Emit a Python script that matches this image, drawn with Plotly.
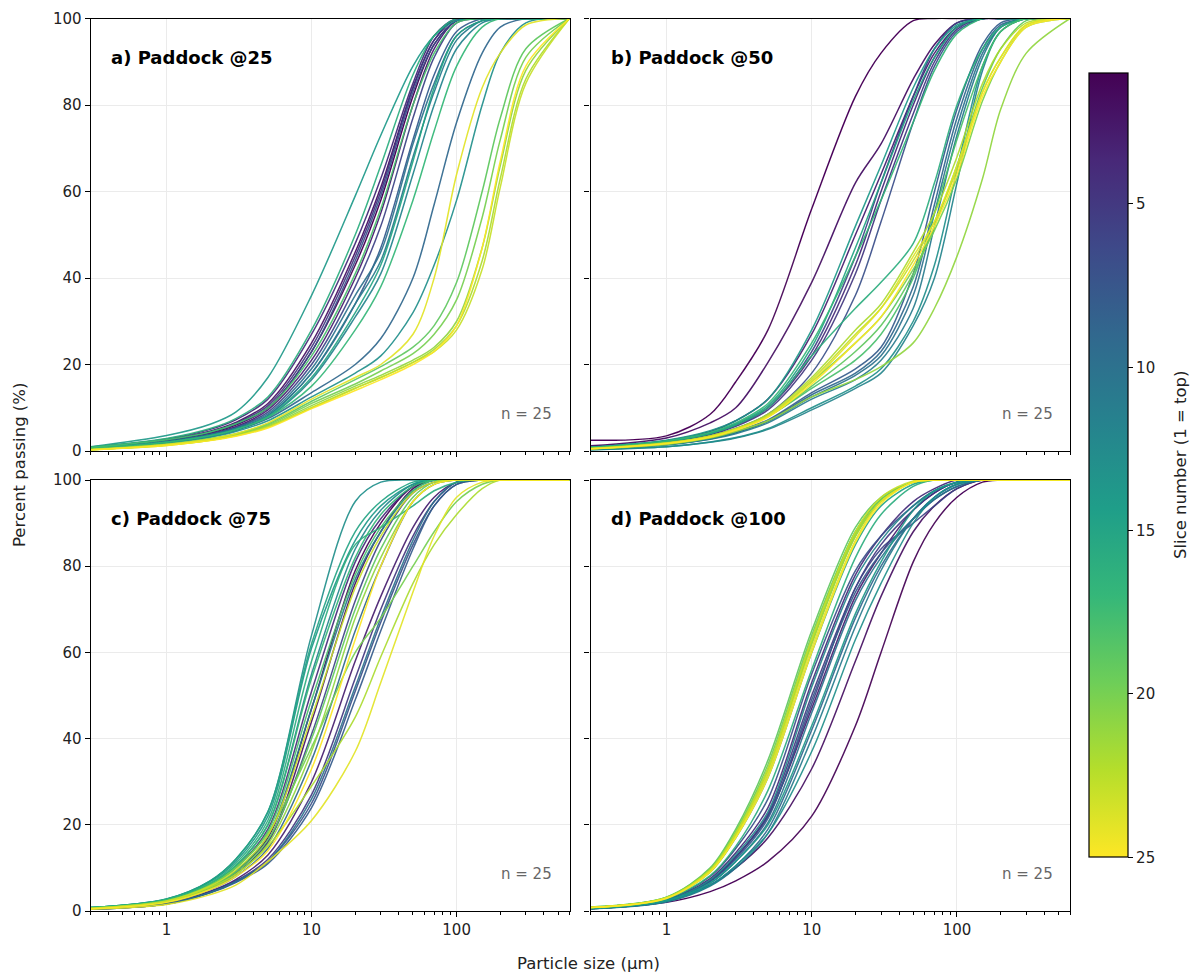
import math
import plotly.graph_objects as go
import plotly.colors as pc

# ---------------- data ----------------
SIZES_UM = [0.3, 1, 2, 3, 5, 10, 20, 30, 50, 70, 100, 150, 200, 300, 600]
SLICES = list(range(1, 26))
PANEL_TITLES = ["a) Paddock @25", "b) Paddock @50", "c) Paddock @75", "d) Paddock @100"]
SAMPLE_COUNTS = [25, 25, 25, 25]
X_TICKS = [1, 10, 100]
X_TICKTEXT = ["1", "10", "100"]
Y_TICKS = [0, 20, 40, 60, 80, 100]
CBAR_TICKS = [5, 10, 15, 20, 25]

paddock25 = [
    [0.7, 2.4, 4.2, 6.0, 10.0, 23, 43, 58, 82, 94, 99.5, 100, 100, 100, 100],
    [0.8, 2.6, 4.6, 6.6, 11.0, 25, 46, 61, 84, 95, 100, 100, 100, 100, 100],
    [0.7, 2.3, 4.0, 5.6, 9.5, 21, 40, 55, 80, 93, 99.5, 100, 100, 100, 100],
    [0.9, 2.8, 5.0, 7.2, 12.0, 27, 48, 63, 85, 96, 100, 100, 100, 100, 100],
    [0.8, 2.6, 4.5, 6.4, 10.5, 24, 45, 60, 84, 95, 100, 100, 100, 100, 100],
    [0.7, 2.3, 3.9, 5.4, 9.0, 20, 38, 52, 77, 91, 99, 100, 100, 100, 100],
    [0.8, 2.5, 4.4, 6.2, 10.0, 23, 44, 59, 83, 94, 99.5, 100, 100, 100, 100],
    [0.6, 2.1, 3.6, 5.0, 8.2, 18, 34, 47, 72, 87, 97, 100, 100, 100, 100],
    [0.6, 2.0, 3.4, 4.8, 7.5, 13.5, 20, 26, 40, 57, 76, 92, 98, 100, 100],
    [0.6, 2.2, 3.8, 5.3, 8.6, 19, 36, 46, 71, 85, 96, 99.5, 100, 100, 100],
    [0.6, 2.1, 3.6, 5.1, 8.2, 18, 34, 44, 68, 83, 95, 99.5, 100, 100, 100],
    [0.5, 2.0, 3.4, 4.8, 7.8, 16.5, 31, 41, 64, 80, 93, 99, 100, 100, 100],
    [0.5, 1.8, 3.2, 4.5, 7.0, 12.5, 18, 22, 32, 43, 58, 80, 92, 99, 100],
    [1.0, 3.6, 6.2, 9.0, 17, 36, 59, 73, 89, 96, 99.5, 100, 100, 100, 100],
    [0.6, 2.1, 3.6, 5.0, 8.0, 17, 32, 43, 67, 84, 96, 99.5, 100, 100, 100],
    [0.9, 2.9, 5.2, 7.5, 12.5, 28, 50, 66, 87, 96, 100, 100, 100, 100, 100],
    [0.6, 2.0, 3.5, 4.9, 7.8, 15, 28, 38, 58, 74, 89, 98, 100, 100, 100],
    [0.8, 2.6, 4.4, 6.3, 10.0, 22, 41, 56, 80, 92, 99, 100, 100, 100, 100],
    [0.4, 1.6, 2.9, 4.0, 6.3, 11.5, 16.5, 19.5, 24, 29, 39, 60, 77, 93, 100],
    [0.4, 1.5, 2.8, 3.9, 6.0, 11.0, 15.5, 18.5, 22.5, 27, 35, 54, 72, 91, 100],
    [0.3, 1.4, 2.6, 3.7, 5.8, 10.5, 15, 17.5, 21, 24, 30, 47, 66, 88, 100],
    [0.3, 1.4, 2.5, 3.6, 5.6, 10.0, 14.5, 17, 20.5, 23.5, 29, 44, 63, 86, 100],
    [0.3, 1.3, 2.5, 3.5, 5.5, 10.0, 14.5, 17, 20.5, 23, 28, 42, 61, 85, 100],
    [0.3, 1.5, 2.8, 4.0, 6.5, 12, 17, 20, 27, 40, 64, 84, 92, 98.5, 100],
    [0.3, 1.3, 2.4, 3.4, 5.3, 9.8, 14, 16.5, 20, 23, 29, 47, 67, 89, 100],
]

paddock50 = [
    [2.5, 3.5, 8.5, 16, 28, 56, 82, 92, 99.5, 100, 100, 100, 100, 100, 100],
    [1.2, 3.0, 6.5, 10, 20.5, 39, 62, 71, 86, 94, 99, 100, 100, 100, 100],
    [0.9, 2.4, 4.5, 7.0, 12, 27, 50, 64, 82, 92, 98, 100, 100, 100, 100],
    [0.8, 2.2, 4.0, 6.0, 10, 22, 43, 60, 80, 91, 98, 100, 100, 100, 100],
    [0.8, 2.1, 3.8, 5.7, 9.5, 21, 41, 58, 78, 90, 97.5, 100, 100, 100, 100],
    [0.8, 2.2, 4.0, 6.0, 10, 23, 45, 62, 82, 93, 99, 100, 100, 100, 100],
    [0.7, 2.0, 3.5, 5.2, 8.5, 18, 36, 53, 76, 89, 97, 100, 100, 100, 100],
    [0.5, 1.6, 3.0, 4.5, 7.2, 13.5, 19, 24, 41, 60, 79, 94, 99, 100, 100],
    [0.5, 1.5, 2.9, 4.3, 7.0, 13, 18, 23, 38, 57, 77, 93, 98.5, 100, 100],
    [0.5, 1.5, 2.8, 4.2, 6.8, 12.5, 17.5, 22, 36, 55, 75, 92, 98, 100, 100],
    [0.4, 1.4, 2.7, 4.0, 6.5, 12, 16.5, 21, 33, 52, 73, 91, 98, 100, 100],
    [0.3, 1.0, 2.0, 3.0, 5.0, 9.5, 14.5, 18, 29, 40, 62, 88, 97, 100, 100],
    [0.3, 1.0, 2.1, 3.1, 5.2, 10, 15, 19, 30, 43, 65, 89, 97, 100, 100],
    [0.9, 2.5, 4.7, 7.0, 12, 28, 52, 66, 84, 93, 98.5, 100, 100, 100, 100],
    [0.8, 2.3, 4.2, 6.3, 10.5, 24, 47, 62, 81, 91, 98, 100, 100, 100, 100],
    [0.8, 2.2, 4.0, 6.0, 10, 22, 33, 39, 48, 62, 80, 93, 98, 100, 100],
    [0.8, 2.3, 4.3, 6.5, 11, 25, 45, 58, 76, 88, 96.5, 100, 100, 100, 100],
    [0.6, 1.8, 3.3, 5.0, 8.0, 14.5, 21, 27, 40, 55, 72, 89, 97, 100, 100],
    [0.6, 1.8, 3.4, 5.0, 8.0, 15, 23, 29, 41, 52, 66, 84, 93, 99.5, 100],
    [0.5, 1.8, 3.3, 5.0, 8.0, 16, 25, 31, 42, 51, 63, 81, 90, 98, 100],
    [0.5, 1.5, 3.0, 4.5, 7.0, 12.5, 16.5, 19.5, 25, 33, 45, 63, 79, 92, 100],
    [0.6, 1.9, 3.5, 5.2, 8.5, 17, 28, 34, 46, 55, 68, 85, 93, 99, 100],
    [0.5, 1.8, 3.4, 5.1, 8.2, 16.5, 27, 33, 44, 53, 65, 83, 91, 98.5, 100],
    [0.5, 1.8, 3.3, 5.0, 8.0, 16, 26.5, 33, 45, 53, 66, 83, 91, 98.5, 100],
    [0.5, 1.7, 3.2, 4.8, 7.8, 15.5, 25, 31, 43, 52, 64, 82, 90, 98, 100],
]

paddock75 = [
    [0.6, 2.2, 5.5, 9.0, 17, 47, 79, 90, 98.5, 100, 100, 100, 100, 100, 100],
    [0.6, 2.1, 5.2, 8.5, 16, 44, 76, 88, 98, 100, 100, 100, 100, 100, 100],
    [0.5, 1.8, 4.6, 7.3, 13, 30, 58, 73, 89, 96, 99.5, 100, 100, 100, 100],
    [0.7, 2.4, 6.0, 10, 19, 51, 81, 91, 98.5, 100, 100, 100, 100, 100, 100],
    [0.4, 1.7, 4.5, 7.0, 12, 27, 54, 70, 87, 95, 99.5, 100, 100, 100, 100],
    [0.6, 2.1, 5.3, 8.6, 16, 41, 72, 86, 97, 99.5, 100, 100, 100, 100, 100],
    [0.4, 1.6, 4.3, 6.8, 11.5, 25, 51, 67, 85, 94, 99, 100, 100, 100, 100],
    [0.4, 1.6, 4.2, 6.6, 11, 24, 49, 65, 84, 94, 99, 100, 100, 100, 100],
    [0.5, 2.0, 5.0, 8.0, 14.5, 35, 65, 80, 95, 99, 100, 100, 100, 100, 100],
    [0.4, 1.6, 4.3, 6.8, 11.5, 26, 52, 68, 86, 95, 99.5, 100, 100, 100, 100],
    [0.6, 2.2, 5.6, 9.2, 17.5, 47, 77, 88, 97.5, 100, 100, 100, 100, 100, 100],
    [0.7, 2.5, 6.3, 10.5, 20, 55, 84, 93, 99, 100, 100, 100, 100, 100, 100],
    [0.8, 2.8, 7.0, 12, 23, 64, 95, 99.5, 100, 100, 100, 100, 100, 100, 100],
    [0.8, 2.7, 6.8, 11.5, 22, 61, 86, 94, 99, 100, 100, 100, 100, 100, 100],
    [0.8, 2.8, 7.0, 12, 23, 62, 88, 95, 99.5, 100, 100, 100, 100, 100, 100],
    [0.8, 2.7, 6.5, 11, 21, 58, 85, 89, 94, 97.5, 99.5, 100, 100, 100, 100],
    [0.7, 2.6, 6.3, 10.5, 20, 54, 82, 92, 98.5, 100, 100, 100, 100, 100, 100],
    [0.7, 2.4, 6.0, 10, 18.5, 49, 78, 89, 97.5, 100, 100, 100, 100, 100, 100],
    [0.6, 2.2, 5.5, 9.0, 16.5, 40, 70, 84, 96, 99.5, 100, 100, 100, 100, 100],
    [0.7, 2.4, 6.0, 10, 18, 38, 60, 68, 80, 88, 95, 99, 100, 100, 100],
    [0.6, 2.1, 5.2, 8.5, 15.5, 37, 68, 82, 95, 99, 100, 100, 100, 100, 100],
    [0.6, 2.2, 5.5, 8.5, 15, 29, 45, 59, 76, 85, 92, 98, 100, 100, 100],
    [0.6, 2.3, 5.8, 9.5, 17.5, 45, 75, 87, 97, 99.5, 100, 100, 100, 100, 100],
    [0.4, 1.5, 3.8, 6.0, 11.5, 21, 37, 53, 74, 87, 96, 99.5, 100, 100, 100],
    [0.5, 2.0, 5.0, 8.0, 14, 33, 63, 80, 95, 99, 100, 100, 100, 100, 100],
]

paddock100 = [
    [0.5, 2.0, 4.5, 7.0, 11.5, 22, 43, 60, 81, 90, 96, 99.5, 100, 100, 100],
    [0.6, 2.3, 6.0, 10.0, 17, 33, 58, 73, 88, 94, 98, 100, 100, 100, 100],
    [0.6, 2.5, 7.0, 12.5, 22, 47, 73, 83, 93, 97, 99.5, 100, 100, 100, 100],
    [0.7, 2.6, 7.5, 13.5, 24, 53, 78, 87, 95, 98, 100, 100, 100, 100, 100],
    [0.6, 2.5, 7.0, 12.5, 22.5, 50, 75, 85, 93, 97, 99.5, 100, 100, 100, 100],
    [0.6, 2.4, 7.0, 12.5, 22, 48, 75, 84, 90, 94, 98, 100, 100, 100, 100],
    [0.7, 2.7, 8.0, 14.5, 26, 55, 79, 87, 94, 97.5, 99.5, 100, 100, 100, 100],
    [0.6, 2.4, 6.8, 12, 21.5, 49, 74, 83, 91, 95.5, 98.5, 100, 100, 100, 100],
    [0.5, 2.2, 6.0, 10.5, 19, 42, 68, 80, 91, 96, 99, 100, 100, 100, 100],
    [0.5, 2.3, 6.4, 11.5, 20.5, 46, 72, 82, 91, 95.5, 98.5, 100, 100, 100, 100],
    [0.5, 2.1, 5.8, 10, 18, 40, 66, 79, 91, 96, 99, 100, 100, 100, 100],
    [0.6, 2.5, 7.2, 13, 23, 52, 77, 86, 94, 97.5, 99.5, 100, 100, 100, 100],
    [0.6, 2.3, 6.0, 10.5, 18, 37, 63, 76, 90, 96, 99, 100, 100, 100, 100],
    [0.6, 2.4, 6.5, 11.5, 20, 43, 69, 81, 93, 97.5, 99.5, 100, 100, 100, 100],
    [0.8, 3.0, 9.0, 17, 31, 60, 85, 94, 99, 100, 100, 100, 100, 100, 100],
    [0.7, 2.8, 8.2, 15, 28, 56, 82, 92, 98.5, 100, 100, 100, 100, 100, 100],
    [0.8, 3.1, 9.5, 18, 33, 63, 88, 95.5, 99.5, 100, 100, 100, 100, 100, 100],
    [0.8, 3.0, 9.3, 17.5, 32, 62, 87, 95, 99.5, 100, 100, 100, 100, 100, 100],
    [0.9, 3.2, 10, 19, 35, 65, 89, 96, 99.5, 100, 100, 100, 100, 100, 100],
    [0.9, 3.2, 9.8, 18.5, 34, 64, 88, 95.5, 99.5, 100, 100, 100, 100, 100, 100],
    [0.8, 3.1, 9.6, 18, 33, 63, 87.5, 95, 99.5, 100, 100, 100, 100, 100, 100],
    [0.8, 3.0, 9.3, 17.5, 32, 62, 87, 95, 99.5, 100, 100, 100, 100, 100, 100],
    [0.8, 3.1, 9.5, 18, 33, 63, 88, 96, 99.8, 100, 100, 100, 100, 100, 100],
    [0.8, 3.0, 9.2, 17.3, 32, 61, 86, 95, 99.5, 100, 100, 100, 100, 100, 100],
    [0.8, 2.9, 9.0, 17, 31, 60, 85.5, 94.5, 99.5, 100, 100, 100, 100, 100, 100],
]

PANELS = [paddock25, paddock50, paddock75, paddock100]

# ---------------- figure ----------------
W, H = 1191, 977
FONT = "DejaVu Sans"

def px_x(p):
    return p / W

def px_y(p):
    return 1 - p / H

XDOM = [[px_x(90.7), px_x(569.5)], [px_x(590.5), px_x(1070)]]
YDOM = [[px_y(451), px_y(18.5)], [px_y(911), px_y(480)]]

MINOR_TICKS = [m * 10 ** e for e in (-1, 0, 1, 2) for m in range(2, 10)
               if 0.3 <= m * 10 ** e <= 600]

fig = go.Figure()

def slice_color(s):
    return pc.sample_colorscale("Viridis", [(s - 1) / 24.0])[0]

for i, panel in enumerate(PANELS):
    ax = "" if i == 0 else str(i + 1)
    for s, vals in zip(SLICES, panel):
        fig.add_trace(go.Scatter(
            x=SIZES_UM, y=vals, mode="lines",
            line=dict(color=slice_color(s), width=1.5, shape="spline", smoothing=0.9),
            opacity=0.92, showlegend=False, hoverinfo="skip",
            xaxis="x" + ax, yaxis="y" + ax,
        ))

# colour bar carrier (off-range point)
fig.add_trace(go.Scatter(
    x=[1], y=[-50], mode="markers", showlegend=False, hoverinfo="skip",
    marker=dict(
        color=[-1], cmin=-25, cmax=-1, colorscale="Viridis", reversescale=True,
        showscale=True, size=1,
        colorbar=dict(
            x=px_x(1088.7), xanchor="left", y=px_y((73.3 + 857.3) / 2), yanchor="middle",
            len=(857.3 - 73.3) / H, lenmode="fraction", thickness=39, thicknessmode="pixels",
            xpad=0, ypad=0, outlinewidth=1.2, outlinecolor="black",
            ticks="outside", ticklen=5, tickwidth=1, tickcolor="black",
            tickvals=[-t for t in CBAR_TICKS], ticktext=[str(t) for t in CBAR_TICKS],
            tickfont=dict(family=FONT, size=15, color="#222"),
        ),
    ),
    xaxis="x", yaxis="y",
))

layout = dict(
    width=W, height=H, margin=dict(l=0, r=0, t=0, b=0, pad=0, autoexpand=False),
    paper_bgcolor="white", plot_bgcolor="white",
    font=dict(family=FONT, size=15, color="#222"),
    showlegend=False,
)

for i in range(4):
    r, c = divmod(i, 2)
    ax = "" if i == 0 else str(i + 1)
    layout["xaxis" + ax] = dict(
        type="log", range=[math.log10(0.3), math.log10(600)],
        domain=XDOM[c], anchor="y" + ax, automargin=False,
        tickvals=X_TICKS, ticktext=X_TICKTEXT, showticklabels=(r == 1),
        ticks="outside", ticklen=5, tickwidth=1, tickcolor="black",
        showline=True, linecolor="black", linewidth=1.3, mirror=True,
        showgrid=True, gridcolor="#ebebeb", gridwidth=1, zeroline=False,
        minor=dict(tickvals=MINOR_TICKS, ticks="outside", ticklen=3, tickwidth=0.8,
                   tickcolor="black", showgrid=False),
        tickfont=dict(family=FONT, size=15, color="#222"),
    )
    layout["yaxis" + ax] = dict(
        range=[0, 100], domain=YDOM[r], anchor="x" + ax, automargin=False,
        tickvals=Y_TICKS, showticklabels=(c == 0),
        ticks="outside", ticklen=5, tickwidth=1, tickcolor="black",
        showline=True, linecolor="black", linewidth=1.3, mirror=True,
        showgrid=True, gridcolor="#ebebeb", gridwidth=1, zeroline=False,
        tickfont=dict(family=FONT, size=15, color="#222"),
    )

annotations = []
for i in range(4):
    ax = "" if i == 0 else str(i + 1)
    annotations.append(dict(
        text="<b>" + PANEL_TITLES[i] + "</b>", xref="x" + ax + " domain", yref="y" + ax + " domain",
        x=0.038, y=0.91, xanchor="left", yanchor="middle", showarrow=False,
        font=dict(family=FONT, size=18, color="black"),
    ))
    annotations.append(dict(
        text="n = %d" % SAMPLE_COUNTS[i], xref="x" + ax + " domain", yref="y" + ax + " domain",
        x=0.968, y=0.086, xanchor="right", yanchor="middle", showarrow=False,
        font=dict(family=FONT, size=15, color="#666"),
    ))
annotations.append(dict(
    text="Particle size (µm)", xref="paper", yref="paper", x=px_x(588), y=px_y(963),
    xanchor="center", yanchor="middle", showarrow=False,
    font=dict(family=FONT, size=16.5, color="#222"),
))
annotations.append(dict(
    text="Percent passing (%)", xref="paper", yref="paper", x=px_x(19), y=px_y(465),
    xanchor="center", yanchor="middle", showarrow=False, textangle=-90,
    font=dict(family=FONT, size=16.5, color="#222"),
))
annotations.append(dict(
    text="Slice number (1 = top)", xref="paper", yref="paper", x=px_x(1180), y=px_y(465),
    xanchor="center", yanchor="middle", showarrow=False, textangle=-90,
    font=dict(family=FONT, size=16.5, color="#222"),
))
layout["annotations"] = annotations

fig.update_layout(**layout)
fig.write_html("out.html", config={"displayModeBar": False},
               post_script="document.body.style.margin='0';document.body.style.overflow='hidden';")
